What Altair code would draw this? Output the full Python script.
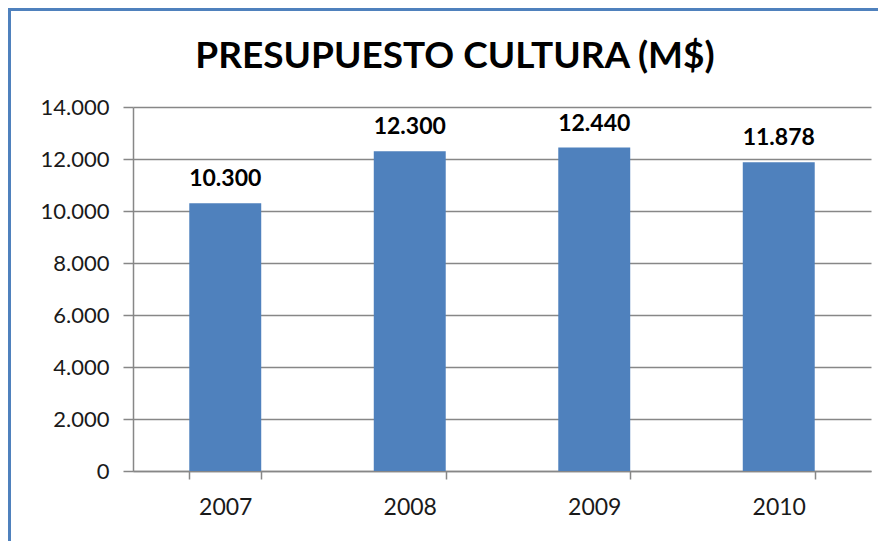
import altair as alt
import pandas as pd

title_text = ["PRESUPUESTO CULTURA (M$)"]
years = ["2007", "2008", "2009", "2010"]
values = [10300, 12300, 12440, 11878]
y_ticks = [0, 2000, 4000, 6000, 8000, 10000, 12000, 14000]

df = pd.DataFrame({"year": years, "value": values})

FONT = "Lato"
BLUE = "#4F81BD"
GRID = "#878787"

x_enc = alt.X(
    "year:N",
    sort=years,
    title=None,
    scale=alt.Scale(paddingInner=0.61, paddingOuter=0.305),
    axis=alt.Axis(
        labelAngle=0,
        labelFont=FONT,
        labelFontSize=23,
        labelColor="#1a1a1a",
        labelPadding=17,
        tickBand="extent",
        tickSize=8,
        tickColor=GRID,
        tickWidth=1.5,
        domainColor=GRID,
        domainWidth=1.5,
        grid=False,
    ),
)

y_enc = alt.Y(
    "value:Q",
    title=None,
    scale=alt.Scale(domain=[0, 14000], nice=False),
    axis=alt.Axis(
        values=y_ticks,
        labelExpr="replace(format(datum.value, ','), ',', '.')",
        labelFont=FONT,
        labelFontSize=22,
        labelColor="#1a1a1a",
        labelPadding=14,
        tickSize=10,
        tickColor=GRID,
        tickWidth=1.5,
        domainColor=GRID,
        domainWidth=1.5,
        grid=True,
        gridColor=GRID,
        gridWidth=1.3,
    ),
)

bars = alt.Chart(df).mark_bar(color=BLUE).encode(x=x_enc, y=y_enc)

labels = (
    alt.Chart(df)
    .transform_calculate(label="replace(format(datum.value, ','), ',', '.')")
    .mark_text(font=FONT, fontSize=23, fontWeight="bold", color="#000000",
               baseline="alphabetic", dy=-17)
    .encode(x=alt.X("year:N", sort=years), y="value:Q", text="label:N")
)

title_df = pd.DataFrame({"t": title_text})
title = alt.Chart(title_df).mark_text(
    font=FONT, fontSize=37, fontWeight="bold", color="#000000",
    align="center", baseline="alphabetic"
).encode(x=alt.value(322), y=alt.value(-39), text="t:N")

border_df = pd.DataFrame({"k": [0]})
left_border = alt.Chart(border_df).mark_rule(color=BLUE, strokeWidth=3).encode(
    x=alt.value(-123.5), y=alt.value(-97.5), y2=alt.value(470)
)
top_border = alt.Chart(border_df).mark_rule(color=BLUE, strokeWidth=3).encode(
    x=alt.value(-125), x2=alt.value(760), y=alt.value(-97.5)
)

chart = (
    alt.layer(bars, labels, title, left_border, top_border)
    .properties(
        width=738,
        height=364,
        autosize=alt.AutoSizeParams(type="none"),
        padding={"left": 125, "top": 99, "right": 7, "bottom": 70},
        background="white",
    )
    .configure_view(stroke=None)
)

chart.save("out.html", embed_options={"renderer": "svg", "actions": False})
